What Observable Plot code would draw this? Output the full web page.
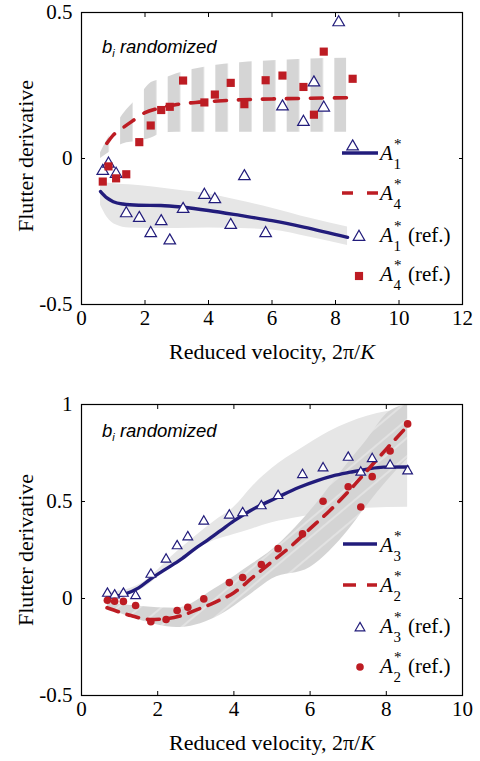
<!DOCTYPE html>
<html><head><meta charset="utf-8">
<script src="https://cdn.jsdelivr.net/npm/d3@7"></script>
<script src="https://cdn.jsdelivr.net/npm/@observablehq/plot@0.6"></script>
<style>
body{margin:0;background:#fff;}
#wrap{position:relative;width:480px;height:761px;overflow:hidden;}
#wrap svg{display:block;}
</style></head><body><div id="wrap"></div>
<script>
// ---------- Top panel data (A1*, A4*) ----------
const xTicksTop = [0, 2, 4, 6, 8, 10, 12];
const yTicksTop = [-0.5, 0, 0.5];
const vTop = [0.67,0.85,1.09,1.41,1.82,2.18,2.51,2.78,3.2,3.87,4.2,4.7,5.13,5.8,6.33,6.99,7.32,7.63,8.1,8.54];
const a1Ref = [-0.043,-0.018,-0.053,-0.188,-0.204,-0.256,-0.215,-0.281,-0.173,-0.125,-0.14,-0.228,-0.061,-0.256,0.178,0.125,0.26,0.174,0.466,0.041];
const a4Ref = [-0.079,-0.027,-0.068,-0.054,0.056,0.113,0.166,0.177,0.267,0.192,0.219,0.259,0.186,0.268,0.284,0.245,0.15,0.366,null,0.273];
const a1MeanV = [0.6,0.8,1.0,1.3,1.8,2.5,3.2,4,5,6,7,8.38];
const a1Mean  = [-0.113,-0.135,-0.148,-0.156,-0.16,-0.161,-0.167,-0.178,-0.195,-0.213,-0.235,-0.27];
const a1BandV = [0.6,0.8,1.1,1.5,3,4,5,6,7.2,8.38];
const a1Hi    = [-0.08,-0.084,-0.087,-0.09,-0.108,-0.122,-0.145,-0.17,-0.205,-0.235];
const a1Lo    = [-0.16,-0.2,-0.228,-0.238,-0.24,-0.238,-0.24,-0.245,-0.27,-0.298];
const a4MeanV = [0.8,1.0,1.3,1.6,2.0,2.4,3.0,3.6,4.3,5,6,7,8.35];
const a4Mean  = [0.052,0.08,0.105,0.128,0.157,0.171,0.185,0.192,0.197,0.201,0.204,0.206,0.208];
const a4BandV = [0.6,1.0,1.3,1.8,2.2,2.5,3,4,5,6,7,8.35];
const a4Hi    = [0.02,0.1,0.15,0.21,0.26,0.27,0.29,0.315,0.328,0.335,0.34,0.343];
const a4Lo    = [0.0,0.03,0.05,0.06,0.07,0.085,0.09,0.09,0.09,0.09,0.09,0.09];

// ---------- Bottom panel data (A3*, A2*) ----------
const xTicksBot = [0, 2, 4, 6, 8, 10];
const yTicksBot = [-0.5, 0, 0.5, 1];
const vBot = [0.68,0.87,1.1,1.42,1.82,2.22,2.51,2.79,3.21,3.88,4.23,4.72,5.16,5.8,6.34,7.0,7.33,7.63,8.1,8.56];
const a3Ref = [0.026,0.017,0.026,0.014,0.124,0.202,0.271,0.317,0.398,0.429,0.441,0.477,0.53,0.638,0.672,0.727,0.65,0.72,0.686,0.657];
const a2Ref = [-0.009,-0.014,-0.015,-0.036,-0.12,-0.108,-0.062,-0.045,-0.002,0.082,0.108,0.175,0.257,0.333,0.501,0.576,0.472,0.628,0.76,0.9];
const a3MeanV = [0.68,1.1,1.5,1.81,2.2,2.6,3.0,3.3,3.65,4.0,4.44,5.15,5.7,6.19,6.6,7.06,7.5,7.93,8.56];
const a3Mean  = [0.005,0.02,0.055,0.1,0.15,0.2,0.26,0.3,0.35,0.4,0.454,0.522,0.572,0.608,0.632,0.651,0.667,0.677,0.678];
const a3BandV = [0.68,1.5,2.5,3.5,4,4.5,5,5.75,6.5,7.5,8.56];
const a3Hi    = [0.03,0.07,0.24,0.4,0.47,0.58,0.67,0.77,0.86,0.94,0.98];
const a3Lo    = [0.0,0.04,0.19,0.3,0.33,0.36,0.39,0.42,0.445,0.465,0.47];
const a2MeanV = [0.67,1.0,1.3,1.8,2.2,2.6,3.0,3.5,4.0,4.5,5.0,5.5,6.0,6.5,7.0,7.5,8.0,8.56];
const a2Mean  = [-0.048,-0.07,-0.088,-0.108,-0.105,-0.09,-0.06,-0.02,0.03,0.11,0.19,0.27,0.36,0.45,0.55,0.66,0.77,0.89];
const a2BandV = [0.68,1.5,2.5,3.5,4.5,5,6,7,7.5,8,8.56];
const a2Hi    = [-0.02,-0.04,-0.05,0.05,0.18,0.25,0.45,0.7,0.82,0.95,1.0];
const a2Lo    = [-0.05,-0.11,-0.15,-0.1,0.03,0.1,0.16,0.35,0.48,0.6,0.72];

// ---------- helpers ----------
const NAVY = "#221c7b", RED = "#bd1c23";
const SERIF = "'Liberation Serif','Times New Roman',serif";
const SANS = "'Liberation Sans',Arial,sans-serif";
const pts = (xs, ys) => xs.map((x, i) => ({x, y: ys[i]})).filter(d => d.y != null);
const band = (xs, lo, hi) => xs.map((x, i) => ({x, lo: lo[i], hi: hi[i]}));
const fmt = d => d === 0 ? "0" : String(d);

function panel({height, mt, mb, xDomain, xTicks, yDomain, yTicks, marks}) {
  const ax = {fontFamily: SERIF, fontSize: 21, label: null};
  const svg = Plot.plot({
    width: 480, height, marginLeft: 81, marginRight: 18, marginTop: mt, marginBottom: mb,
    style: {fontFamily: SERIF, fontSize: "21px", background: "white", color: "black"},
    x: {domain: xDomain, label: null},
    y: {domain: yDomain, label: null},
    marks: [
      ...marks,
      Plot.frame({stroke: "black", strokeWidth: 1.2}),
      Plot.axisX({...ax, ticks: xTicks, anchor: "bottom", tickSize: -4, tickPadding: 10, tickFormat: fmt}),
      Plot.axisX({...ax, ticks: xTicks, anchor: "top", tickSize: -4, tickFormat: () => ""}),
      Plot.axisY({...ax, ticks: yTicks, anchor: "left", tickSize: -4, tickPadding: 13, tickFormat: fmt}),
      Plot.axisY({...ax, ticks: yTicks, anchor: "right", tickSize: -4, tickFormat: () => ""})
    ]
  });
  svg.querySelectorAll("text").forEach(t => {
    t.setAttribute("font-family", SERIF);
    t.setAttribute("font-size", "21");
    t.style.fontFamily = SERIF;
    t.style.fontSize = "21px";
  });
  return svg;
}

function overlay(svg, markup) {
  const g = document.createElementNS("http://www.w3.org/2000/svg", "g");
  g.setAttribute("text-anchor", "start");
  g.innerHTML = markup;
  svg.appendChild(g);
}
function sym(letter, sub, x, y) {
  return `<text x="${x}" y="${y}" font-family="${SERIF}" font-size="21" font-style="italic">${letter}</text>` +
    `<text x="${x + 14}" y="${y - 11}" font-family="${SERIF}" font-size="15">*</text>` +
    `<text x="${x + 13.5}" y="${y + 9}" font-family="${SERIF}" font-size="15">${sub}</text>`;
}
function axisTitles(svg, yCenter, xBase) {
  overlay(svg, `
    <text transform="translate(33,${yCenter}) rotate(-90)" text-anchor="middle" font-family="${SERIF}" font-size="22">Flutter derivative</text>
    <text x="272" y="${xBase}" text-anchor="middle" font-family="${SERIF}" font-size="22">Reduced velocity, 2π/<tspan font-style="italic">K</tspan></text>`);
}
function tag(svg, y) {
  overlay(svg, `<text x="102" y="${y}" font-family="${SANS}" font-style="italic" font-size="18.5">b<tspan font-size="11" dy="4">i</tspan><tspan dy="-4"> randomized</tspan></text>`);
}

const wrap = document.getElementById("wrap");

// ---------- Top panel ----------
const topSvg = panel({
  height: 380, mt: 12, mb: 76, xDomain: [0, 12], xTicks: xTicksTop, yDomain: [-0.5, 0.5], yTicks: yTicksTop,
  marks: [
    Plot.areaY(band(a1BandV, a1Lo, a1Hi), {x: "x", y1: "lo", y2: "hi", fill: "#e6e6e6", curve: "monotone-x"}),
    Plot.areaY(band(a4BandV, a4Lo, a4Hi), {x: "x", y1: "lo", y2: "hi", fill: "url(#stripesTop)", curve: "monotone-x"}),
    Plot.line(pts(a1MeanV, a1Mean), {x: "x", y: "y", stroke: NAVY, strokeWidth: 3.4, curve: "monotone-x"}),
    Plot.line(pts(a4MeanV, a4Mean), {x: "x", y: "y", stroke: RED, strokeWidth: 3.6, strokeDasharray: "12,12", curve: "monotone-x"}),
    Plot.dot(pts(vTop, a1Ref), {x: "x", y: "y", symbol: "triangle", r: 4.3, stroke: NAVY, fill: "white", strokeWidth: 1.2}),
    Plot.dot(pts(vTop, a4Ref), {x: "x", y: "y", symbol: "square", r: 4.6, fill: RED, stroke: null})
  ]
});
const defsT = document.createElementNS("http://www.w3.org/2000/svg", "defs");
defsT.innerHTML = `<pattern id="stripesTop" patternUnits="userSpaceOnUse" x="24.9" y="0" width="23.8" height="10"><rect width="12.5" height="10" fill="#d5d5d5"/></pattern>`;
topSvg.insertBefore(defsT, topSvg.firstChild);
axisTitles(topSvg, 156, 359);
tag(topSvg, 53);
overlay(topSvg, `
  <line x1="342" x2="378" y1="153" y2="153" stroke="${NAVY}" stroke-width="3.4"/>
  ${sym("A", "1", 380, 160)}
  <line x1="342" x2="378" y1="193" y2="193" stroke="${RED}" stroke-width="3.6" stroke-dasharray="11,14"/>
  ${sym("A", "4", 380, 200)}
  <path d="${d3.symbol(d3.symbolTriangle, Math.PI * 4.3 * 4.3)()}" transform="translate(359,237)" fill="white" stroke="${NAVY}" stroke-width="1.2"/>
  ${sym("A", "1", 380, 242)}<text x="408" y="242" font-family="${SERIF}" font-size="21">(ref.)</text>
  <path d="${d3.symbol(d3.symbolSquare, Math.PI * 4.6 * 4.6)()}" transform="translate(359,276)" fill="${RED}"/>
  ${sym("A", "4", 380, 281)}<text x="408" y="281" font-family="${SERIF}" font-size="21">(ref.)</text>`);
wrap.appendChild(topSvg);

// ---------- Bottom panel ----------
const botSvg = panel({
  height: 381, mt: 24, mb: 66, xDomain: [0, 10], xTicks: xTicksBot, yDomain: [-0.5, 1], yTicks: yTicksBot,
  marks: [
    Plot.areaY(band(a3BandV, a3Lo, a3Hi), {x: "x", y1: "lo", y2: "hi", fill: "#e6e6e6", curve: "monotone-x"}),
    Plot.areaY(band(a2BandV, a2Lo, a2Hi), {x: "x", y1: "lo", y2: "hi", fill: "url(#streaksBot)", curve: "monotone-x"}),
    Plot.line(pts(a3MeanV, a3Mean), {x: "x", y: "y", stroke: NAVY, strokeWidth: 3.4, curve: "monotone-x"}),
    Plot.line(pts(a2MeanV, a2Mean), {x: "x", y: "y", stroke: RED, strokeWidth: 3.6, strokeDasharray: "12,9", curve: "monotone-x"}),
    Plot.dot(pts(vBot, a3Ref), {x: "x", y: "y", symbol: "triangle", r: 3.6, stroke: NAVY, fill: "white", strokeWidth: 1.2}),
    Plot.dot(pts(vBot, a2Ref), {x: "x", y: "y", symbol: "circle", r: 3.8, fill: RED, stroke: null})
  ]
});
const defsB = document.createElementNS("http://www.w3.org/2000/svg", "defs");
defsB.innerHTML = `<pattern id="streaksBot" patternUnits="userSpaceOnUse" width="6" height="14" patternTransform="rotate(-40)"><rect width="6" height="14" fill="#d4d4d4"/><rect width="6" height="2" y="11" fill="#e2e2e2"/></pattern>`;
botSvg.insertBefore(defsB, botSvg.firstChild);
axisTitles(botSvg, 170, 370);
tag(botSvg, 57);
overlay(botSvg, `
  <line x1="343" x2="377" y1="164" y2="164" stroke="${NAVY}" stroke-width="3.4"/>
  ${sym("A", "3", 380, 172)}
  <line x1="343" x2="377" y1="205" y2="205" stroke="${RED}" stroke-width="3.6" stroke-dasharray="13,11"/>
  ${sym("A", "2", 380, 212)}
  <path d="${d3.symbol(d3.symbolTriangle, Math.PI * 3.6 * 3.6)()}" transform="translate(360,248)" fill="white" stroke="${NAVY}" stroke-width="1.2"/>
  ${sym("A", "3", 380, 253)}<text x="408" y="253" font-family="${SERIF}" font-size="21">(ref.)</text>
  <circle cx="360" cy="287" r="3.8" fill="${RED}"/>
  ${sym("A", "2", 380, 293)}<text x="408" y="293" font-family="${SERIF}" font-size="21">(ref.)</text>`);
wrap.appendChild(botSvg);
</script>
</body></html>
